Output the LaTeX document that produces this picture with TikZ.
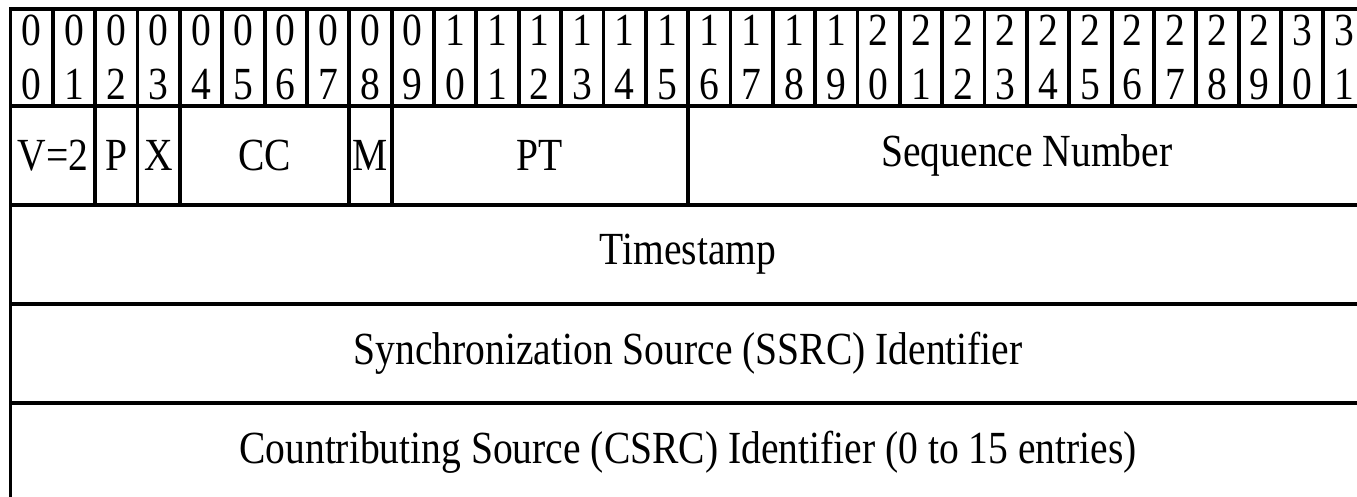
\documentclass[tikz,border=0pt]{standalone}
\usepackage{fontspec}
\setmainfont{Liberation Serif}[FakeStretch=0.86]
\usepackage{pgf,tikz}
\newcommand{\bitw}{21.175pt}
\usetikzlibrary{positioning}
\tikzstyle{bitcell} = [draw, line width=1.9pt, rectangle, inner sep=0pt, outer sep=0pt, minimum width=\bitw, minimum height=48.5pt, align=center, font=\fontsize{23}{27}\selectfont]
\tikzstyle{fieldbox} = [draw, line width=1.9pt, rectangle, inner sep=0pt, outer sep=0pt, minimum height=49.5pt, font=\fontsize{23}{27}\selectfont]

\begin{document}
\begin{tikzpicture}[x=0.5pt,y=-0.5pt]
	\useasboundingbox (0,0) rectangle (1357,497);
	\clip (0,0) rectangle (1357,497);
	% numeros de bit
	\foreach \i in {0,...,31}{
		\pgfmathtruncatemacro{\tens}{\i/10}
		\pgfmathtruncatemacro{\units}{mod(\i,10)}
		\node [bitcell, anchor=north west] (bit\i) at ({10.5+42.35*\i},9) {\tens\\\units};
	}
	% campos
	\node [fieldbox, minimum width=2*\bitw, anchor=north west] (version) at (bit0.south west) {V=2};
	\node [fieldbox, minimum width=\bitw, right=0pt of version] (padding) {P};
	\node [fieldbox, minimum width=\bitw, right=0pt of padding] (extension) {X};
	\node [fieldbox, minimum width=4*\bitw, right=0pt of extension] (csrccount) {CC};
	\node [fieldbox, minimum width=\bitw, right=0pt of csrccount] (marker) {M};
	\node [fieldbox, minimum width=7*\bitw, right=0pt of marker] (payload) {PT};
	\node [fieldbox, minimum width=16*\bitw, right=0pt of payload] (seqnum) {Sequence Number};
	\node [fieldbox, minimum width=32*\bitw, anchor=north west] (timestamp) at (version.south west) {Timestamp};
	\node [fieldbox, minimum width=32*\bitw, below=0pt of timestamp] (ssrc) {Synchronization Source (SSRC) Identifier};
	\node [fieldbox, minimum width=32*\bitw, below=0pt of ssrc] (csrc) {Countributing Source (CSRC) Identifier (0 to 15 entries)};
\end{tikzpicture}
\end{document}
